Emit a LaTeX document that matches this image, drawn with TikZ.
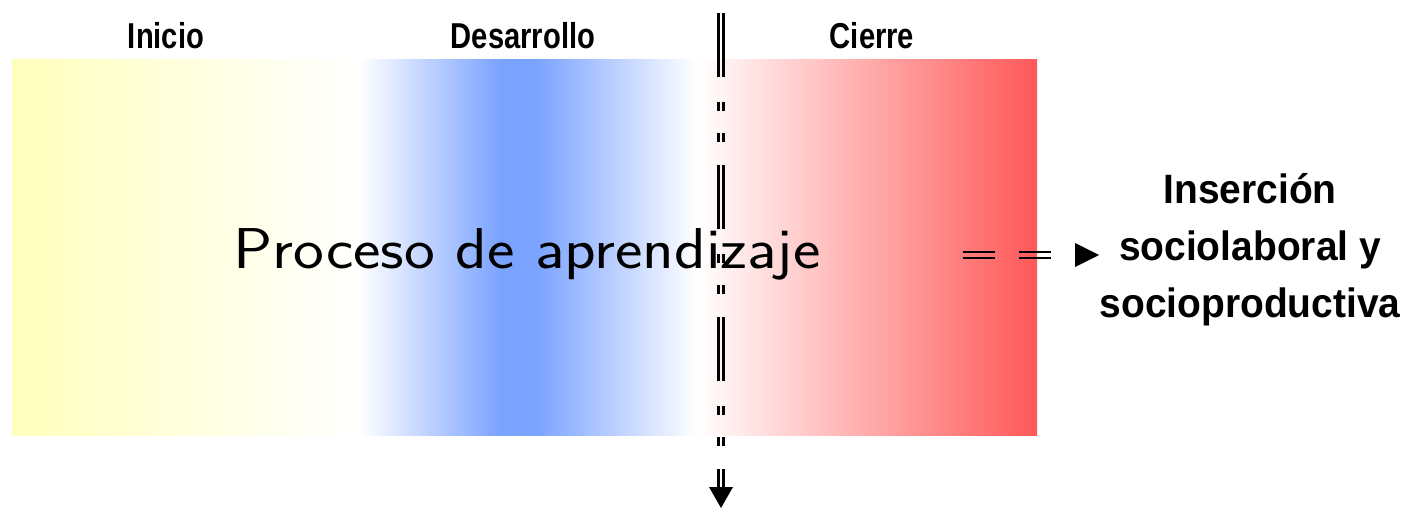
\documentclass[tikz,border=0pt]{standalone}
\usepackage{fontspec}
\setmainfont{Liberation Sans}
\newfontfamily\headfont[FakeStretch=0.81]{Liberation Sans}
\newfontfamily\sidefont[FakeStretch=0.95]{Liberation Sans}
\definecolor{yel}{RGB}{255,255,188}
\definecolor{blu}{RGB}{122,162,255}
\definecolor{rdd}{RGB}{255,88,88}
\pgfdeclarehorizontalshading{blueband}{100bp}{color(0bp)=(white); color(25bp)=(white); color(46bp)=(blu); color(51bp)=(blu); color(75bp)=(white); color(100bp)=(white)}
\tikzset{
  headlbl/.style={anchor=base, inner sep=0pt, font=\headfont\bfseries\fontsize{18pt}{18pt}\selectfont},
  sidelbl/.style={anchor=base, inner sep=0pt, align=center, font=\sidefont\bfseries\fontsize{20.5pt}{28.5pt}\selectfont},
  proclbl/.style={anchor=base, inner sep=0pt, font=\sffamily\fontsize{28.8pt}{30pt}\selectfont},
  vline/.style={line width=1.25pt, dash pattern=on 32pt off 12.5pt on 4.5pt off 11pt on 4.5pt off 11.5pt},
  hline/.style={line width=1pt, dash pattern=on 16pt off 12pt}
}
\begin{document}
\begin{tikzpicture}[x=0.5pt,y=-0.5pt]
\useasboundingbox (0,0) rectangle (1409,508);
% coloured bands
\shade[left color=yel, right color=white] (12,60) rectangle (359,435);
\shade[shading=blueband] (359,60) rectangle (697,435);
\shade[left color=white, right color=rdd] (697,60) rectangle (1037,435);
% headings
\node[headlbl] (ini) at (166,49) {Inicio};
\node[headlbl] (des) at (523,49) {Desarrollo};
\node[headlbl] (cie) at (872,49) {Cierre};
% vertical divider
\coordinate (vtop) at (721,13);
\coordinate (vmid) at (721,487);
\coordinate (vbot) at (721,508);
\draw[vline, transform canvas={xshift=-1.25pt}] (vtop) -- (vmid);
\draw[vline, transform canvas={xshift=1.25pt}] (vtop) -- (vmid);
\fill (vbot) -- ++(-12,-21) -- ++(24,0) -- cycle;
% process label
\node[proclbl] (proc) at (527,268) {\scalebox{1.135}[1]{Proceso de aprendizaje}};
% right arrow
\coordinate (hs) at (963,255);
\coordinate (hm) at (1075,255);
\coordinate (he) at (1099,255);
\draw[hline, transform canvas={yshift=1.5pt}] (hs) -- (hm);
\draw[hline, transform canvas={yshift=-1.5pt}] (hs) -- (hm);
\fill (he) -- ++(-24,-12) -- ++(0,24) -- cycle;
% outcome
\node[sidelbl] (out) at (1250,317) {Inserción\\sociolaboral y\\socioproductiva};
\end{tikzpicture}
\end{document}
